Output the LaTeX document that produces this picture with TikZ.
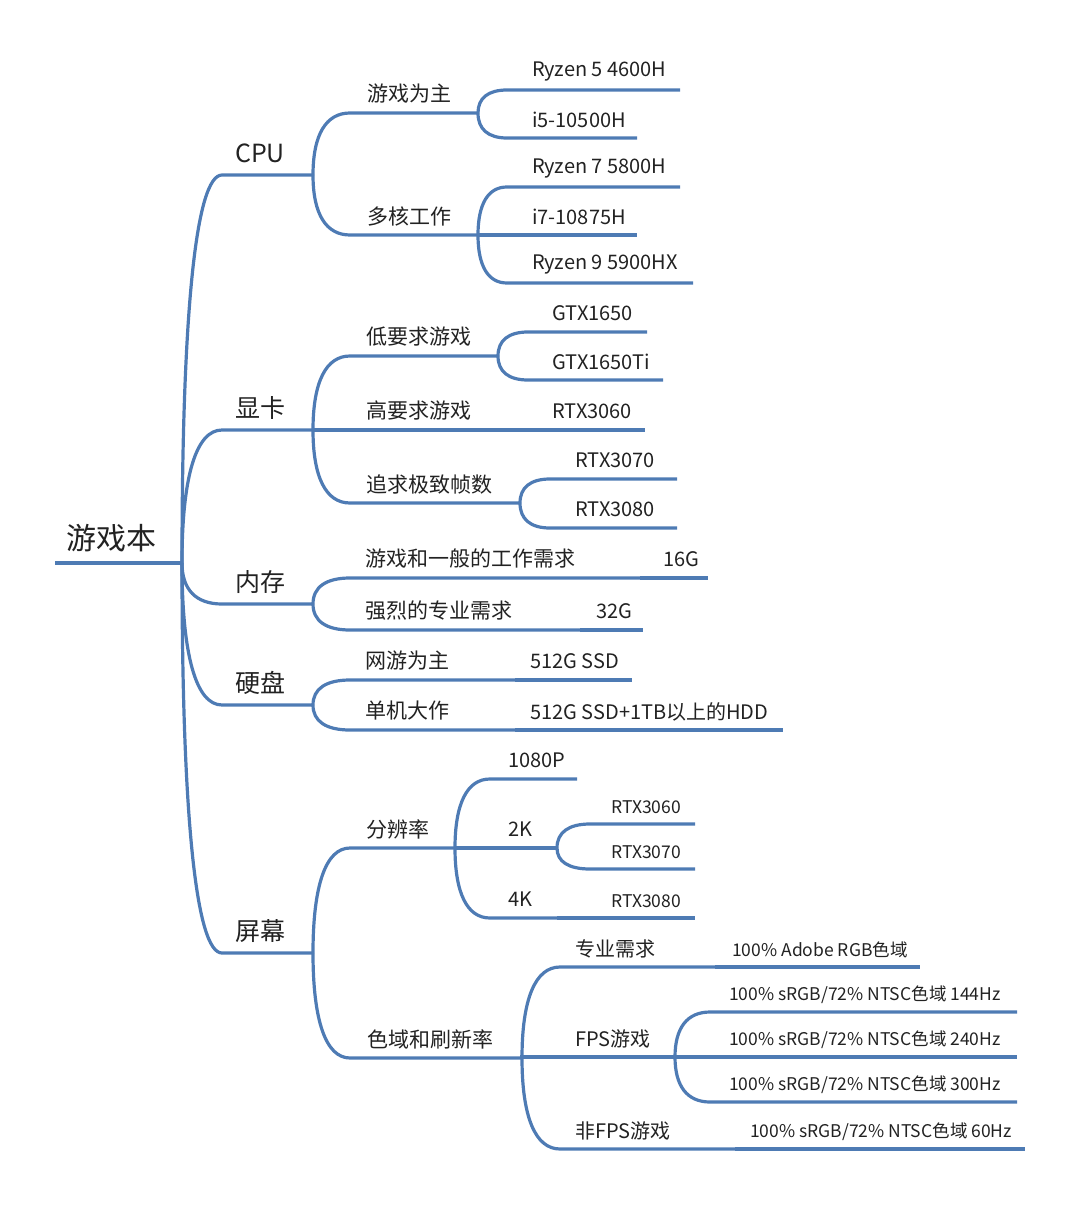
\documentclass[tikz,border=0pt]{standalone}
\usepackage{fontspec}
\setmainfont{Noto Sans CJK SC}
\usetikzlibrary{calc,positioning}

\definecolor{mmblue}{RGB}{78,123,180}
\definecolor{mmtext}{RGB}{34,34,34}

\tikzset{
  link/.style={draw=mmblue, line width=3.2pt},
  curve/.style={to path={.. controls ($(\tikztostart)!0.65!(\tikztostart|-\tikztotarget)$) and ($(\tikztostart|-\tikztotarget)!0.35!(\tikztotarget)$) .. (\tikztotarget)}},
  topic/.style={anchor=west, inner sep=0pt, text=mmtext},
  rootText/.style={topic, font=\fontsize{30}{36}\selectfont, yshift=25pt},
  mainText/.style={topic, font=\fontsize{25}{30}\selectfont, yshift=22pt},
  subText/.style={topic, font=\fontsize{21}{25}\selectfont, yshift=19pt},
  leafText/.style={topic, font=\fontsize{20}{24}\selectfont, yshift=18.5pt},
  tinyText/.style={topic, font=\fontsize{17.5}{21}\selectfont, yshift=17pt}
}

% name, style, text x, line from x, line to x, line y, text
\newcommand{\mmitem}[7]{%
  \coordinate (#1L) at (#4,#6);
  \coordinate (#1R) at (#5,#6);
  \node[#2] (#1) at (#3,#6) {#7};
}

\begin{document}
\begin{tikzpicture}[x=1pt, y=-1pt]
  \useasboundingbox (0,0) rectangle (1080,1207);

  % root and main branches
  \mmitem{root}{rootText}{66}{55}{182}{563}{游戏本}
  \mmitem{cpu}{mainText}{235}{222}{313}{175}{CPU}
  \mmitem{gpu}{mainText}{235}{222}{313}{430}{显卡}
  \mmitem{mem}{mainText}{235}{222}{313}{604}{内存}
  \mmitem{disk}{mainText}{235}{222}{313}{705}{硬盘}
  \mmitem{scr}{mainText}{235}{222}{313}{953}{屏幕}

  % CPU
  \mmitem{game}{subText}{367}{350}{478}{113}{游戏为主}
  \mmitem{multi}{subText}{367}{350}{478}{235}{多核工作}
  \mmitem{rfive}{leafText}{532}{507}{680}{90}{Ryzen 5 4600H}
  \mmitem{ifive}{leafText}{532}{507}{637}{138}{i5-10500H}
  \mmitem{rseven}{leafText}{532}{507}{680}{187}{Ryzen 7 5800H}
  \mmitem{iseven}{leafText}{532}{507}{637}{235}{i7-10875H}
  \mmitem{rnine}{leafText}{532}{507}{693}{283}{Ryzen 9 5900HX}

  % GPU
  \mmitem{low}{subText}{366}{350}{498}{356}{低要求游戏}
  \mmitem{high}{subText}{366}{350}{498}{430}{高要求游戏}
  \mmitem{ultra}{subText}{366}{350}{520}{503}{追求极致帧数}
  \mmitem{gtx}{leafText}{552}{528}{647}{332}{GTX1650}
  \mmitem{gtxti}{leafText}{552}{528}{663}{380}{GTX1650Ti}
  \mmitem{rtxsix}{leafText}{552}{498}{645}{430}{RTX3060}
  \mmitem{rtxseven}{leafText}{575}{550}{677}{479}{RTX3070}
  \mmitem{rtxeight}{leafText}{575}{550}{677}{528}{RTX3080}

  % memory
  \mmitem{memgame}{subText}{365}{350}{640}{578}{游戏和一般的工作需求}
  \mmitem{mempro}{subText}{365}{350}{580}{630}{强烈的专业需求}
  \mmitem{sixteen}{leafText}{663}{640}{708}{578}{16G}
  \mmitem{thirtytwo}{leafText}{596}{580}{643}{630}{32G}

  % disk
  \mmitem{online}{subText}{365}{350}{515}{680}{网游为主}
  \mmitem{solo}{subText}{365}{350}{515}{730}{单机大作}
  \mmitem{ssd}{leafText}{530}{515}{632}{680}{512G SSD}
  \mmitem{hdd}{leafText}{530}{515}{783}{730}{512G SSD+1TB以上的HDD}

  % screen
  \mmitem{res}{subText}{366}{350}{455}{848}{分辨率}
  \mmitem{gamut}{subText}{367}{350}{522}{1058}{色域和刷新率}
  \mmitem{fhd}{leafText}{508}{490}{577}{779}{1080P}
  \mmitem{qhd}{leafText}{508}{455}{557}{848}{2K}
  \mmitem{uhd}{leafText}{508}{490}{557}{918}{4K}
  \mmitem{qsix}{tinyText}{611}{590}{695}{824}{RTX3060}
  \mmitem{qseven}{tinyText}{611}{590}{695}{869}{RTX3070}
  \mmitem{ueight}{tinyText}{611}{557}{695}{918}{RTX3080}
  \mmitem{pro}{leafText}{575}{560}{715}{967}{专业需求}
  \mmitem{fps}{leafText}{575}{522}{675}{1057}{FPS游戏}
  \mmitem{nonfps}{leafText}{575}{560}{735}{1149}{非FPS游戏}
  \mmitem{adobe}{tinyText}{732}{715}{920}{967}{100\% Adobe RGB色域}
  \mmitem{hzone}{tinyText}{729}{710}{1017}{1012}{100\% sRGB/72\% NTSC色域 144Hz}
  \mmitem{hztwo}{tinyText}{729}{675}{1017}{1057}{100\% sRGB/72\% NTSC色域 240Hz}
  \mmitem{hzthree}{tinyText}{729}{710}{1017}{1102}{100\% sRGB/72\% NTSC色域 300Hz}
  \mmitem{hzsixty}{tinyText}{750}{735}{1025}{1149}{100\% sRGB/72\% NTSC色域 60Hz}

  \draw[link] (rootL) -- (rootR);
  \foreach \p/\c in {root/cpu, root/gpu, root/mem, root/disk, root/scr,
      cpu/game, cpu/multi, game/rfive, game/ifive,
      multi/rseven, multi/iseven, multi/rnine,
      gpu/low, gpu/high, gpu/ultra, low/gtx, low/gtxti,
      high/rtxsix, ultra/rtxseven, ultra/rtxeight,
      mem/memgame, mem/mempro, memgame/sixteen, mempro/thirtytwo,
      disk/online, disk/solo, online/ssd, solo/hdd,
      scr/res, scr/gamut, res/fhd, res/qhd, res/uhd,
      qhd/qsix, qhd/qseven, uhd/ueight,
      gamut/pro, gamut/fps, gamut/nonfps, pro/adobe,
      fps/hzone, fps/hztwo, fps/hzthree, nonfps/hzsixty}
    \draw[link] (\p R) to[curve] (\c L) -- (\c R);
\end{tikzpicture}
\end{document}
